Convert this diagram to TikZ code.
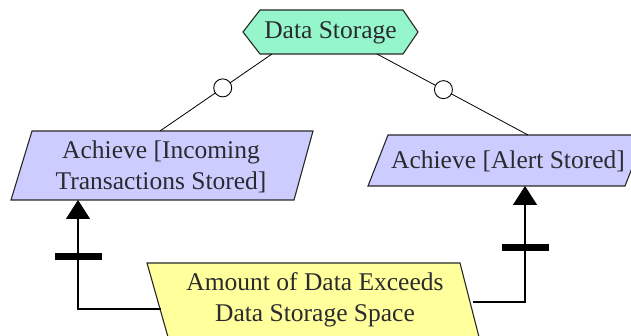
\documentclass[tikz,border=0pt]{standalone}
\usepackage{fontspec}
\setmainfont{Liberation Serif}
\usetikzlibrary{arrows.meta}

\definecolor{hexgreen}{RGB}{148,246,202}
\definecolor{goalblue}{RGB}{204,204,255}
\definecolor{obsyellow}{RGB}{255,255,155}
\definecolor{inkgray}{RGB}{40,40,40}
\definecolor{txtgray}{RGB}{42,42,48}

\tikzset{
  boxshape/.style={draw=inkgray, line width=1.1pt, line join=miter},
  lbl/.style={inner sep=0pt, align=center, text=txtgray,
              font=\fontsize{25.5}{31}\selectfont},
  link/.style={draw=black, line width=0.8pt},
  orcirc/.style={circle, draw=black, fill=white, line width=0.9pt,
                 minimum size=18pt, inner sep=0pt},
  contrib/.style={draw=black, line width=1.3pt,
                  -{Triangle[width=24pt,length=19pt]}},
  barmark/.style={fill=black, draw=none, minimum width=47pt,
                  minimum height=7pt, inner sep=0pt}
}

\begin{document}
\begin{tikzpicture}[x=1pt, y=-1pt]
  \useasboundingbox (0,0) rectangle (631,336);
  \fill[white] (0,0) rectangle (631,336);
  \clip (0,0) rectangle (631,336);

  % root goal: hexagon
  \draw[boxshape, fill=hexgreen]
    (243,32) -- (260,10) -- (403,10) -- (418,32) -- (403,54) -- (260,54) -- cycle;
  \node[lbl] (ds) at (330.5,32.5) {Data Storage};
  \coordinate (dsL) at (272,54);
  \coordinate (dsR) at (377,54);

  % sub-goal on the left
  \draw[boxshape, fill=goalblue]
    (32,131) -- (313,131) -- (294,200) -- (11,200) -- cycle;
  \node[lbl] (g1) at (161,167) {Achieve [Incoming\\Transactions Stored]};
  \coordinate (g1top) at (160,131);
  \coordinate (g1bot) at (78,200);

  % sub-goal on the right
  \draw[boxshape, fill=goalblue]
    (388,135) -- (645,135) -- (625,186) -- (368,186) -- cycle;
  \node[lbl] (g2) at (508,161) {Achieve [Alert Stored]};
  \coordinate (g2top) at (528,135);
  \coordinate (g2bot) at (525,186);

  % obstacle
  \draw[boxshape, fill=obsyellow]
    (147,263) -- (460,263) -- (479,337) -- (168,337) -- cycle;
  \node[lbl] (obs) at (315,300) {Amount of Data Exceeds\\Data Storage Space};
  \coordinate (obsL) at (161,309);
  \coordinate (obsR) at (473,302);

  % refinement links with or-circles
  \draw[link] (dsL) -- node[orcirc, pos=0.44] (c1) {} (g1top);
  \draw[link] (dsR) -- node[orcirc, pos=0.44] (c2) {} (g2top);

  % obstruction links
  \draw[contrib] (obsL) -| (g1bot);
  \draw[contrib] (obsR) -| (g2bot);
  \node[barmark] (b1) at (78,257) {};
  \node[barmark] (b2) at (525,248) {};
\end{tikzpicture}
\end{document}
